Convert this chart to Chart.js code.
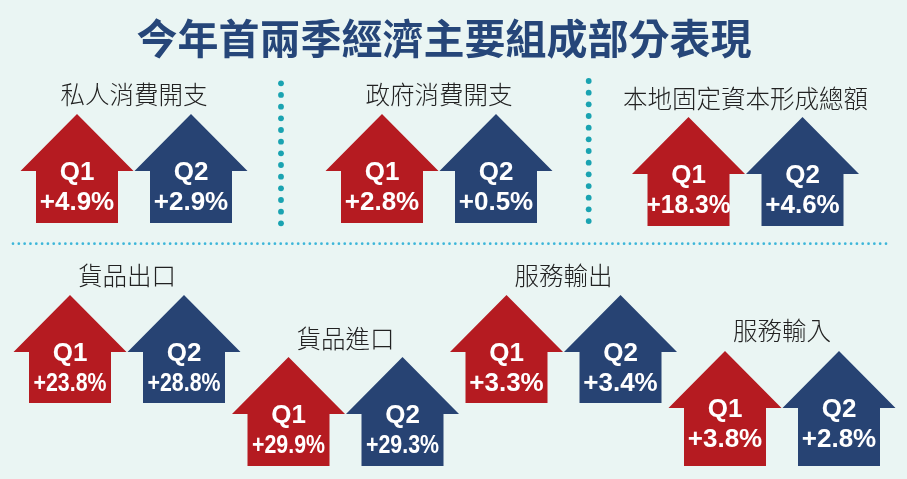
<!DOCTYPE html>
<html>
<head>
<meta charset="utf-8">
<script src="https://cdn.jsdelivr.net/npm/chart.js@4.4.1/dist/chart.umd.min.js"></script>
<style>
  html, body { margin: 0; padding: 0; background: #eaf5f3; }
  #wrap { width: 907px; height: 479px; position: relative; }
</style>
</head>
<body>
<div id="wrap"><canvas id="c"></canvas></div>
<script>
// ---- data ----
const chartTitle = '今年首兩季經濟主要組成部分表現';
const categories = ['私人消費開支', '政府消費開支', '本地固定資本形成總額', '貨品出口', '貨品進口', '服務輸出', '服務輸入'];
const quarterLabels = ['Q1', 'Q2'];
const q1Growth = [4.9, 2.8, 18.3, 23.8, 29.9, 3.3, 3.8];
const q2Growth = [2.9, 0.5, 4.6, 28.8, 29.3, 3.4, 2.8];

// ---- layout (positions in scale units) ----
const groupCenterX = [134, 439, 745.5, 127, 345.5, 563.5, 782];
const arrowTopY    = [114, 114, 117, 295, 357, 295, 351];
const arrowBottomY = [223, 223, 226, 403, 466, 403, 466];
const labelY       = [95, 95, 99, 276, 339, 276, 331];
const valueMaxWidth = [90, 90, 84, 73, 73, 90, 90];
const pairOffset = 57;
const headHalf = 56.5, shaftHalf = 41, headH = 57;

const COLORS = ['#b51b21', '#274373'];

function fmt(v) { return '+' + v.toFixed(1) + '%'; }

const arrowPlugin = {
  id: 'arrows',
  beforeDraw(chart) {
    const ctx = chart.ctx;
    ctx.save();
    ctx.fillStyle = '#eaf5f3';
    ctx.fillRect(0, 0, chart.width, chart.height);
    ctx.restore();
  },
  afterDatasetsDraw(chart) {
    const ctx = chart.ctx;
    const xs = chart.scales.x, ys = chart.scales.y;
    const dx = v => xs.getPixelForValue(v) - xs.getPixelForValue(0);
    const dy = v => ys.getPixelForValue(v) - ys.getPixelForValue(0);
    chart.data.datasets.forEach((ds, di) => {
      const meta = chart.getDatasetMeta(di);
      meta.data.forEach((el, i) => {
        const cx = el.x, top = el.y;
        const bottom = ys.getPixelForValue(arrowBottomY[i]);
        const hh = dx(headHalf), sh = dx(shaftHalf), hy = top + dy(headH);
        ctx.save();
        ctx.fillStyle = ds.backgroundColor;
        ctx.beginPath();
        ctx.moveTo(cx, top);
        ctx.lineTo(cx + hh, hy);
        ctx.lineTo(cx + sh, hy);
        ctx.lineTo(cx + sh, bottom);
        ctx.lineTo(cx - sh, bottom);
        ctx.lineTo(cx - sh, hy);
        ctx.lineTo(cx - hh, hy);
        ctx.closePath();
        ctx.fill();
        ctx.fillStyle = '#ffffff';
        ctx.textAlign = 'center';
        ctx.textBaseline = 'alphabetic';
        ctx.font = 'bold 26px "Liberation Sans", Arial, sans-serif';
        ctx.fillText(quarterLabels[di], cx, top + dy(65.5));
        const vals = di === 0 ? q1Growth : q2Growth;
        ctx.fillText(fmt(vals[i]), cx, top + dy(95.5), valueMaxWidth[i]);
        ctx.restore();
      });
    });
  },
  afterDraw(chart) {
    const ctx = chart.ctx;
    const xs = chart.scales.x, ys = chart.scales.y;
    const X = v => xs.getPixelForValue(v), Y = v => ys.getPixelForValue(v);
    ctx.save();
    // title
    ctx.fillStyle = '#264679';
    ctx.textAlign = 'center';
    ctx.textBaseline = 'middle';
    ctx.font = 'bold 41px "Noto Sans CJK TC", "Noto Sans CJK SC", sans-serif';
    ctx.fillText(chartTitle, X(444), Y(38));
    // category labels
    ctx.fillStyle = '#222222';
    ctx.font = '300 24.5px "Noto Sans CJK TC", "Noto Sans CJK SC", sans-serif';
    categories.forEach((c, i) => ctx.fillText(c, X(groupCenterX[i]), Y(labelY[i])));
    // vertical dotted separators
    ctx.fillStyle = '#1aa3b1';
    [[281, 83.3], [588.7, 81]].forEach(([x, y0]) => {
      for (let k = 0; k < 13; k++) {
        ctx.beginPath();
        ctx.arc(X(x), Y(y0 + k * 11.67), 2.9, 0, Math.PI * 2);
        ctx.fill();
      }
    });
    // horizontal dotted separator
    ctx.fillStyle = '#3db6d9';
    for (let x = 13; x <= 887; x += 5.82) {
      ctx.beginPath();
      ctx.arc(X(x), Y(243.7), 1.35, 0, Math.PI * 2);
      ctx.fill();
    }
    ctx.restore();
  }
};

new Chart(document.getElementById('c'), {
  type: 'scatter',
  data: {
    datasets: [
      { label: quarterLabels[0], backgroundColor: COLORS[0], pointRadius: 0,
        data: categories.map((c, i) => ({ x: groupCenterX[i] - pairOffset, y: arrowTopY[i] })) },
      { label: quarterLabels[1], backgroundColor: COLORS[1], pointRadius: 0,
        data: categories.map((c, i) => ({ x: groupCenterX[i] + pairOffset, y: arrowTopY[i] })) }
    ]
  },
  options: {
    responsive: true,
    maintainAspectRatio: false,
    animation: false,
    layout: { padding: 0 },
    plugins: { legend: { display: false }, tooltip: { enabled: false }, title: { display: false } },
    scales: {
      x: { type: 'linear', min: 0, max: 907, display: false },
      y: { type: 'linear', min: 0, max: 479, reverse: true, display: false }
    }
  },
  plugins: [arrowPlugin]
});
</script>
</body>
</html>
